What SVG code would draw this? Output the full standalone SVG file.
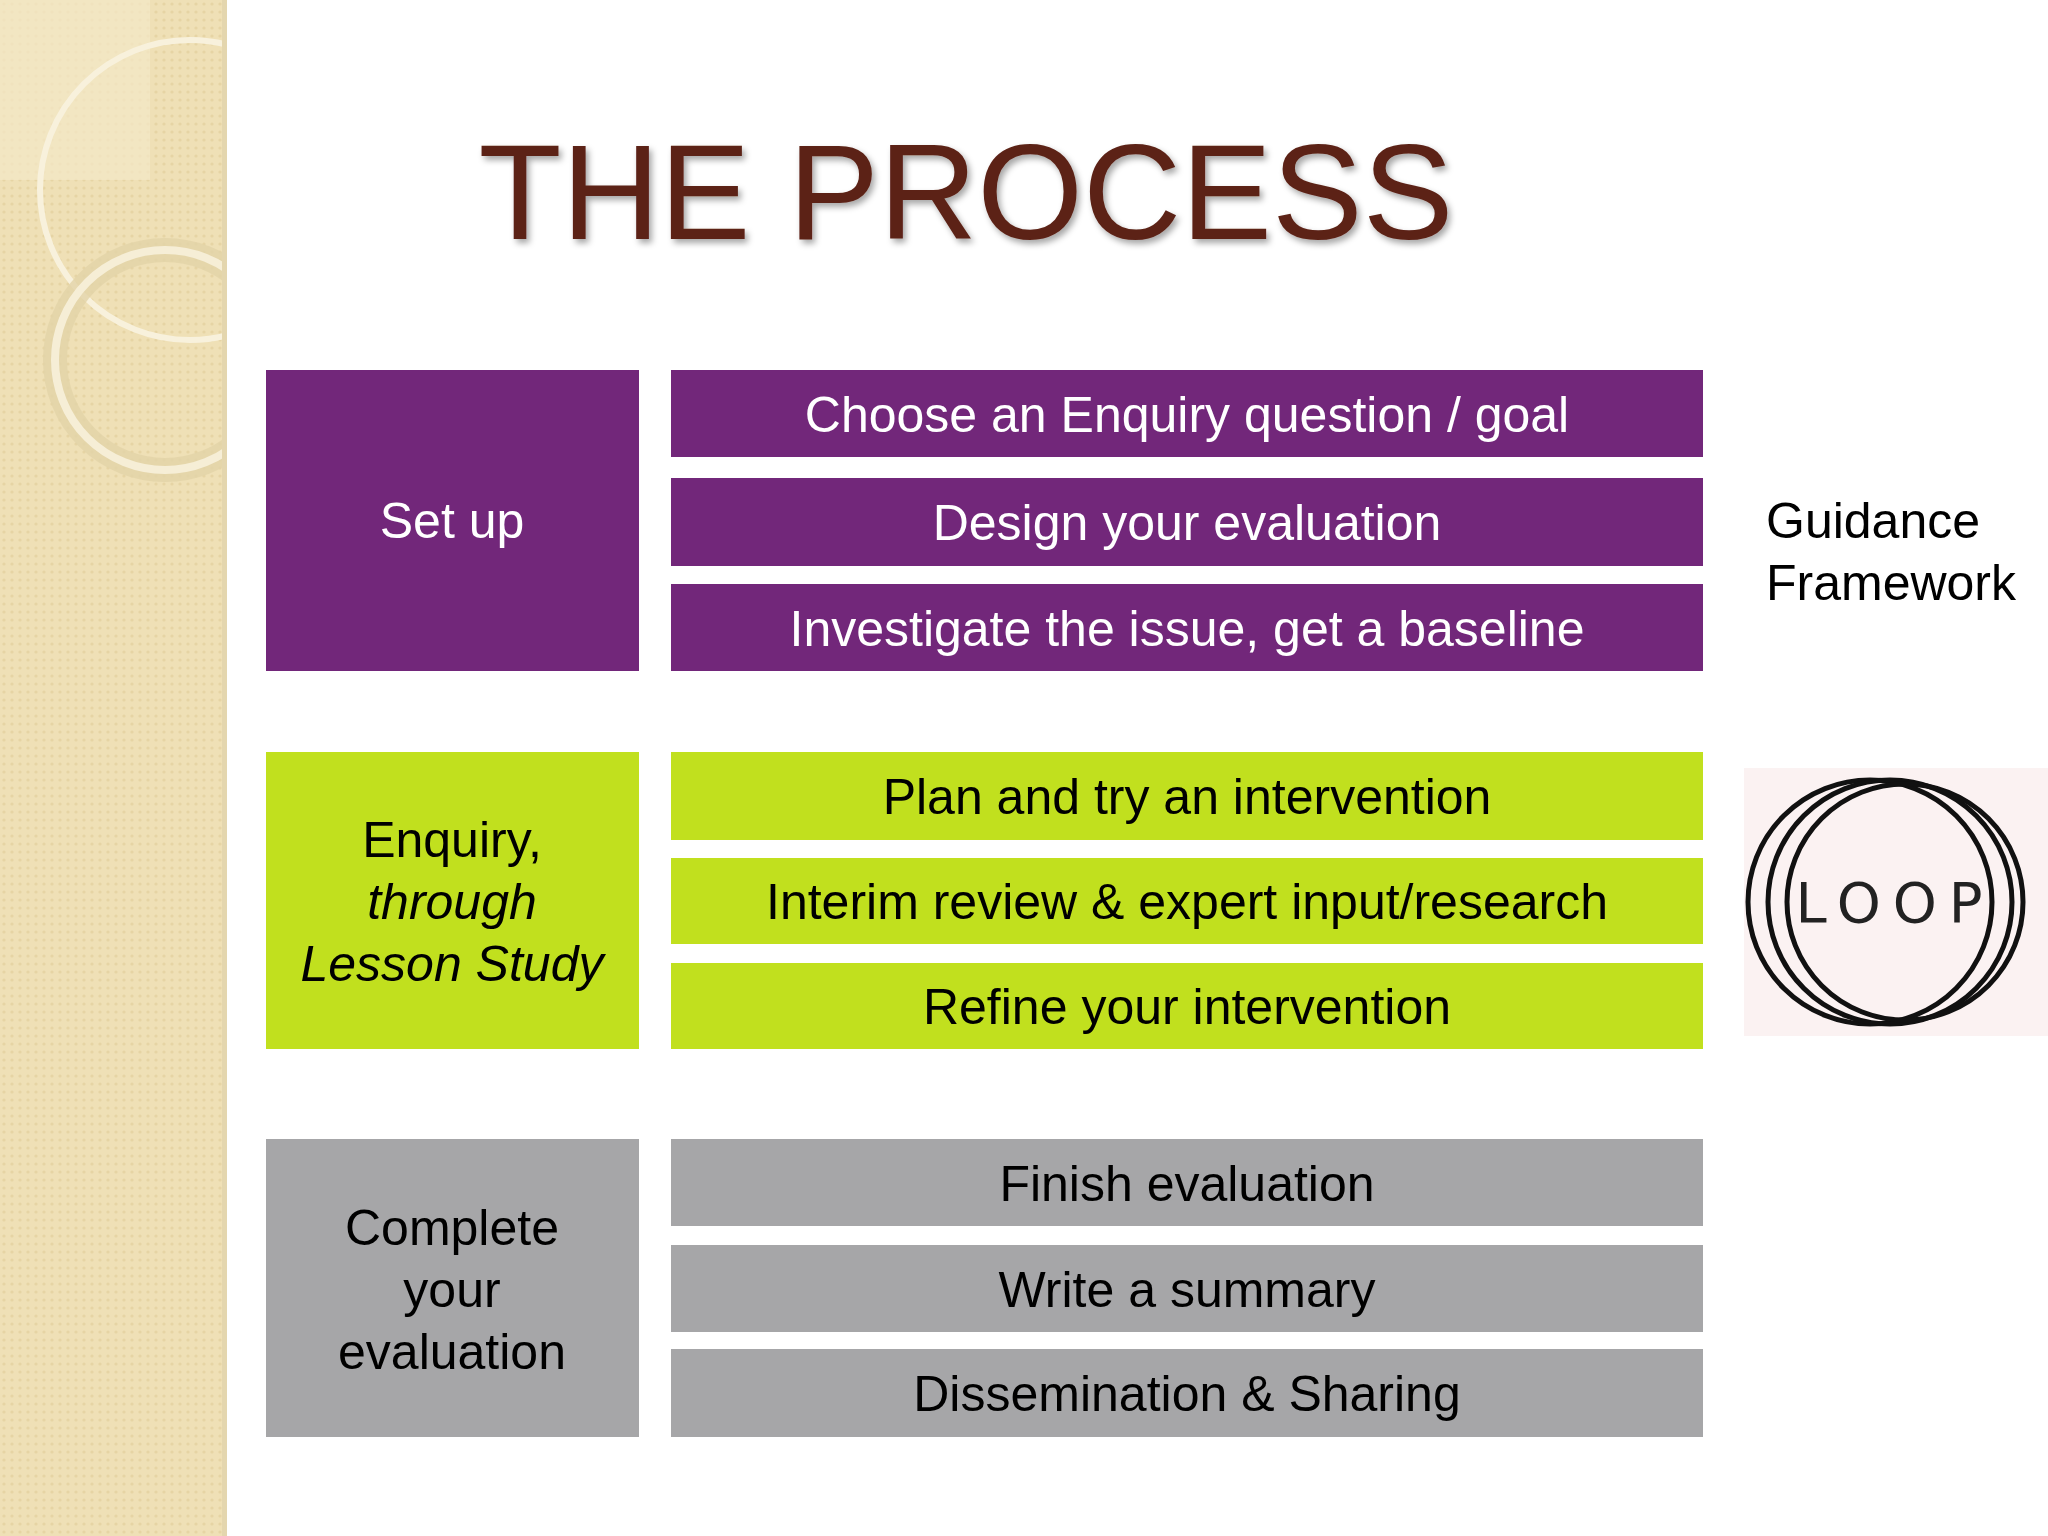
<svg xmlns="http://www.w3.org/2000/svg" width="2048" height="1536" viewBox="0 0 2048 1536">
<defs>
<style>
.t{font-family:"Liberation Sans",Arial,sans-serif;font-size:50px;text-anchor:middle}
.w{fill:#ffffff}.k{fill:#000000}
.p{fill:#72277a}.g{fill:#c1e01e}.s{fill:#a6a6a8}
</style>
<pattern id="dots" width="8" height="8" patternUnits="userSpaceOnUse">
<rect width="8" height="8" fill="#efe0b6"/><circle cx="4" cy="4" r="1.6" fill="#e6d4a4"/>
</pattern>
<clipPath id="strip"><rect x="0" y="0" width="227" height="1536"/></clipPath>
<filter id="sh"><feDropShadow dx="3" dy="4" stdDeviation="3" flood-color="#000" flood-opacity="0.35"/></filter>
</defs>
<rect width="2048" height="1536" fill="#ffffff"/>
<g id="strip-bg">
<rect x="0" y="0" width="227" height="1536" fill="url(#dots)"/>
<g clip-path="url(#strip)" fill="none">
<rect x="0" y="0" width="150" height="180" fill="#f3e8c8" opacity="0.7"/>
<circle cx="190" cy="190" r="150" stroke="#f8f1dc" stroke-width="6"/>
<circle cx="165" cy="360" r="110" stroke="#e2d3a8" stroke-width="24" opacity="0.8"/>
<circle cx="165" cy="360" r="110" stroke="#f6eed6" stroke-width="8"/>
</g>
<rect x="222" y="0" width="5" height="1536" fill="#e4d6ae"/>
</g>
<text x="966" y="239" font-family="Liberation Sans,Arial,sans-serif" font-size="136" text-anchor="middle" fill="#5b2216" filter="url(#sh)">THE PROCESS</text>
<g id="setup"><rect x="266" y="370" width="373" height="301" class="p"/><text x="452" y="538" class="t w">Set up</text></g>
<g id="enquiry"><rect x="266" y="752" width="373" height="297" class="g"/>
<text class="t k"><tspan x="452" y="857">Enquiry,</tspan><tspan x="452" y="919" font-style="italic">through</tspan><tspan x="452" y="981" font-style="italic">Lesson Study</tspan></text></g>
<g id="complete"><rect x="266" y="1139" width="373" height="298" class="s"/>
<text class="t k"><tspan x="452" y="1245">Complete</tspan><tspan x="452" y="1307">your</tspan><tspan x="452" y="1369">evaluation</tspan></text></g>
<g id="r1"><rect x="671" y="370" width="1032" height="87" class="p"/><text x="1187" y="432" class="t w">Choose an Enquiry question / goal</text></g>
<g id="r2"><rect x="671" y="478" width="1032" height="88" class="p"/><text x="1187" y="540" class="t w">Design your evaluation</text></g>
<g id="r3"><rect x="671" y="584" width="1032" height="87" class="p"/><text x="1187" y="646" class="t w">Investigate the issue, get a baseline</text></g>
<g id="r4"><rect x="671" y="752" width="1032" height="88" class="g"/><text x="1187" y="814" class="t k">Plan and try an intervention</text></g>
<g id="r5"><rect x="671" y="858" width="1032" height="86" class="g"/><text x="1187" y="919" class="t k">Interim review &amp; expert input/research</text></g>
<g id="r6"><rect x="671" y="963" width="1032" height="86" class="g"/><text x="1187" y="1024" class="t k">Refine your intervention</text></g>
<g id="r7"><rect x="671" y="1139" width="1032" height="87" class="s"/><text x="1187" y="1201" class="t k">Finish evaluation</text></g>
<g id="r8"><rect x="671" y="1245" width="1032" height="87" class="s"/><text x="1187" y="1307" class="t k">Write a summary</text></g>
<g id="r9"><rect x="671" y="1349" width="1032" height="88" class="s"/><text x="1187" y="1411" class="t k">Dissemination &amp; Sharing</text></g>
<text font-family="Liberation Sans,Arial,sans-serif" font-size="50" fill="#000"><tspan x="1766" y="538">Guidance</tspan><tspan x="1766" y="600">Framework</tspan></text>
<g id="loop">
<rect x="1744" y="768" width="304" height="268" fill="#fbf2f2"/>
<g fill="none" stroke="#111" stroke-width="5">
<circle cx="1870" cy="902" r="122"/><circle cx="1890" cy="902" r="122"/><circle cx="1905" cy="902" r="118"/>
</g>
<text x="1895" y="922" font-family="DejaVu Sans,sans-serif" font-size="56" text-anchor="middle" letter-spacing="12" fill="#222">LOOP</text>
</g>
</svg>
